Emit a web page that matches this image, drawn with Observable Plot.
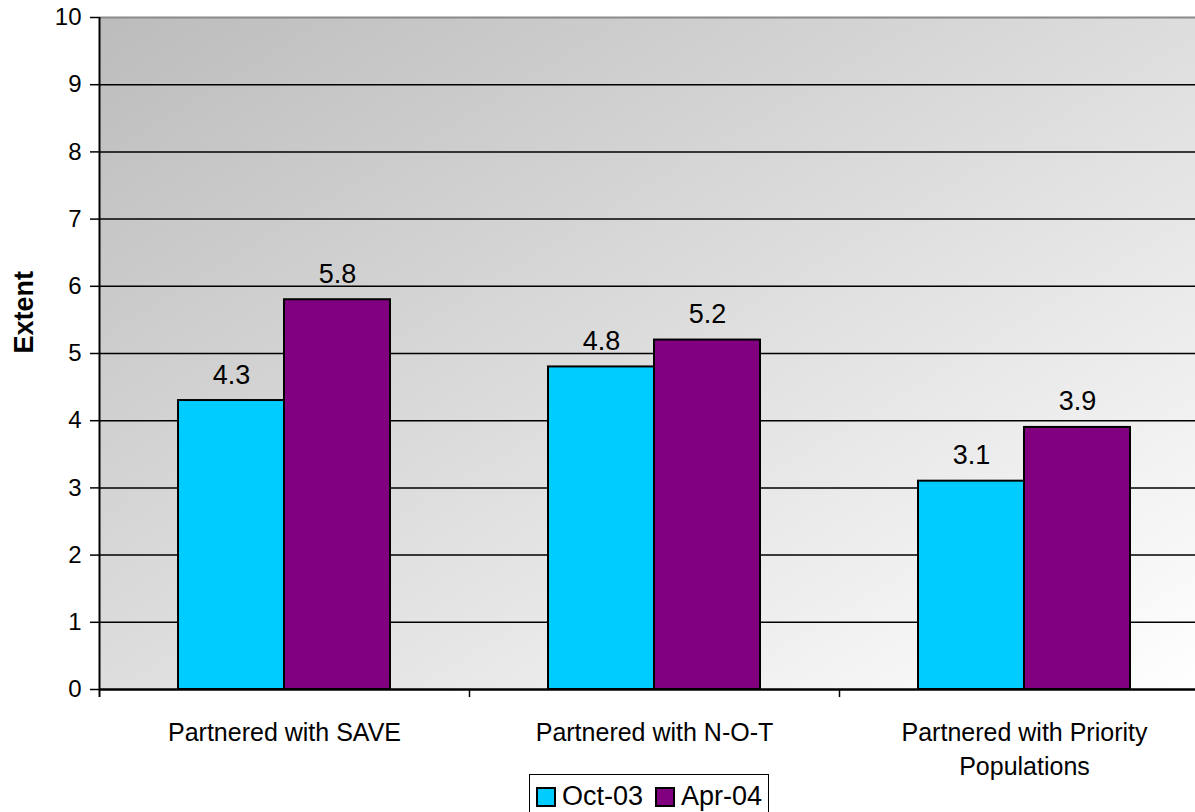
<!DOCTYPE html>
<html>
<head>
<meta charset="utf-8">
<script src="https://cdn.jsdelivr.net/npm/d3@7"></script>
<script src="https://cdn.jsdelivr.net/npm/@observablehq/plot@0.6"></script>
<style>
  html, body { margin: 0; padding: 0; background: #fff; overflow: hidden; }
  #wrap { position: relative; width: 1195px; height: 812px; overflow: hidden;
          font-family: "Liberation Sans", Arial, sans-serif; }
  #chart svg { max-width: none !important; }
  #legend { position: absolute; left: 529px; top: 774px; border: 1.5px solid #000; background: #fff;
            display: flex; align-items: center; padding: 8px 6px 12px 6px; font-size: 27px; line-height: 1; color: #000; }
  #legend .sw { width: 16px; height: 16px; border: 2px solid #000; display: inline-block; margin-right: 6px; }
  #legend .item { display: flex; align-items: center; margin-right: 12px; }
  #legend .item:last-child { margin-right: 0; }
</style>
</head>
<body>
<div id="wrap"><div id="chart"></div><div id="legend"></div></div>
<script>
// Survey results: extent of partnering, two survey waves
const categories = ["Partnered with SAVE", "Partnered with N-O-T", "Partnered with Priority\nPopulations"];
const series = ["Oct-03", "Apr-04"];
const oct03 = [4.3, 4.8, 3.1];
const apr04 = [5.8, 5.2, 3.9];
const colors = ["#00CCFF", "#800080"];
const yTicks = [0, 1, 2, 3, 4, 5, 6, 7, 8, 9, 10];
const gridValues = [1, 2, 3, 4, 5, 6, 7, 8, 9];

const rows = categories.flatMap((c, i) => [
  {category: c, series: series[0], value: oct03[i]},
  {category: c, series: series[1], value: apr04[i]}
]);

// Layout
const width = 1212, height = 812;
const marginLeft = 99, marginRight = 3, marginTop = 17, marginBottom = 123;
const innerPad = 0.427;
const step = (width - marginLeft - marginRight) / categories.length;
const groupWidth = step * (1 - innerPad);
const font = "Liberation Sans, Arial, sans-serif";

const barOf = (s, inset) => Plot.barY(rows.filter(d => d.series === s), {
  x: "category", y: "value", fill: "series", stroke: "#000", strokeWidth: 2, ...inset
});
const labelOf = (s, dx) => Plot.text(rows.filter(d => d.series === s), {
  x: "category", y: "value", text: d => d.value.toFixed(1), dx, dy: -17,
  lineAnchor: "bottom", fontSize: 27, fill: "#000"
});

const chart = Plot.plot({
  width, height, marginLeft, marginRight, marginTop, marginBottom,
  style: {fontFamily: font, background: "transparent", color: "#000", overflow: "visible", maxWidth: "none"},
  x: {type: "band", domain: categories, paddingInner: innerPad, paddingOuter: innerPad / 2, align: 0.5, axis: null},
  y: {domain: [0, 10], axis: null},
  color: {domain: series, range: colors},
  marks: [
    Plot.frame({fill: "url(#plotBg)", stroke: null}),
    Plot.ruleY(gridValues, {stroke: "#000", strokeWidth: 1.5}),
    Plot.ruleY([10], {stroke: "#8a8a8a", strokeWidth: 2}),
    barOf(series[0], {insetRight: groupWidth / 2}),
    barOf(series[1], {insetLeft: groupWidth / 2}),
    Plot.ruleY([0], {stroke: "#000", strokeWidth: 2.5}),
    // vertical axis line and category separators below the baseline
    Plot.ruleX(categories.slice(0, 1), {x: d => d, y1: -0.12, y2: 10, dx: -step / 2, stroke: "#000", strokeWidth: 2}),
    Plot.ruleX(categories.slice(1), {x: d => d, y1: -0.12, y2: 0, dx: -step / 2, stroke: "#000", strokeWidth: 1.5}),
    Plot.axisY({ticks: yTicks, tickSize: 9, tickPadding: 9, fontSize: 24, strokeWidth: 1.5, label: null}),
    Plot.text(categories, {x: d => d, y: () => 0, dy: 27, lineAnchor: "top", lineHeight: 1.36, fontSize: 25, fill: "#000"}),
    Plot.text(["Extent"], {frameAnchor: "left", rotate: -90, dx: -75, fontSize: 27, fontWeight: "bold", fill: "#000"}),
    labelOf(series[0], -groupWidth / 4),
    labelOf(series[1], groupWidth / 4)
  ]
});

// Diagonal grey-to-white wash behind the plot area
d3.select(chart).insert("defs", ":first-child").html(
  `<linearGradient id="plotBg" x1="0" y1="0" x2="1" y2="1">
     <stop offset="0" stop-color="#bcbcbc"/>
     <stop offset="1" stop-color="#ffffff"/>
   </linearGradient>`);

document.getElementById("chart").append(chart);

// Legend
const legend = d3.select("#legend");
series.forEach((s, i) => {
  const item = legend.append("div").attr("class", "item");
  item.append("span").attr("class", "sw").style("background", colors[i]);
  item.append("span").text(s);
});
</script>
</body>
</html>
